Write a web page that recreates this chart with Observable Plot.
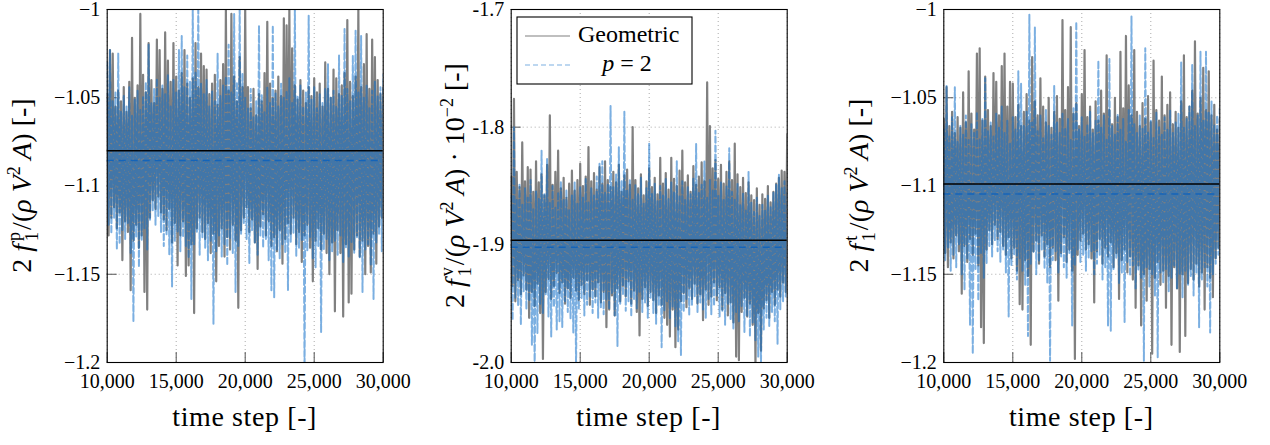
<!DOCTYPE html>
<html><head><meta charset="utf-8">
<script src="https://cdn.jsdelivr.net/npm/d3@7"></script>
<script src="https://cdn.jsdelivr.net/npm/@observablehq/plot@0.6"></script>
<style>
body{margin:0;background:#fff;}
#wrap{position:relative;width:1270px;height:445px;overflow:hidden;background:#fff;}
#wrap svg{position:absolute;top:0;}
</style></head><body><div id="wrap"></div>
<script>
// time axis: samples every 100 steps starting at 10,000 (peaks/troughs)
const timeStart = 10000, timeStep = 100;
const xTicks = [10000, 15000, 20000, 25000, 30000];
const seriesNames = ["Geometric", "p = 2"];

// Panel 1: 2 f1^p/(rho V^2 A)
const p1YTicks = [-1.2, -1.15, -1.1, -1.05, -1];
const p1YTickLabels = ["−1.2", "−1.15", "−1.1", "−1.05", "−1"];
const p1GeomHigh = [-1.048,-1.023,-1.025,-1.055,-1.046,-1.052,-1.044,-1.058,-1.041,-1.016,
-1.050,-1.043,-1.0025,-1.037,-1.047,-1.019,-1.040,-1.053,-1.017,-1.023,
-1.045,-1.013,-1.029,-1.041,-1.019,-1.038,-1.046,-1.036,-1.023,-1.042,
-1.050,-1.039,-1.019,-1.044,-1.025,-1.032,-1.034,-1.048,-1.042,-1.037,
-1.054,-1.040,-1.031,-1.000,-1.046,-1.0025,-1.038,-1.052,-1.027,-1.044,
-1.000,-1.044,-1.056,-1.045,-1.060,-1.048,-1.052,-1.036,-1.007,-1.042,
-1.050,-1.046,-1.038,-1.049,-1.005,-1.009,-1.000,-1.022,-1.043,-1.051,
-1.040,-1.046,-1.053,-1.044,-1.049,-1.039,-1.047,-1.042,-1.055,-1.030,
-1.045,-1.050,-1.034,-1.039,-1.048,-1.043,-1.036,-1.006,-1.041,-1.049,
-1.038,-1.000,-1.044,-1.031,-1.014,-1.045,-1.017,-1.027,-1.040,-1.048,
-1.044];
const p1GeomLow = [-1.128,-1.118,-1.112,-1.124,-1.115,-1.142,-1.120,-1.126,-1.159,-1.131,
-1.122,-1.135,-1.128,-1.160,-1.170,-1.118,-1.108,-1.113,-1.106,-1.115,
-1.119,-1.125,-1.113,-1.132,-1.121,-1.145,-1.128,-1.120,-1.151,-1.145,
-1.133,-1.172,-1.124,-1.118,-1.126,-1.130,-1.121,-1.138,-1.127,-1.154,
-1.134,-1.124,-1.140,-1.129,-1.136,-1.122,-1.131,-1.169,-1.125,-1.118,
-1.112,-1.126,-1.119,-1.132,-1.147,-1.123,-1.116,-1.128,-1.120,-1.134,
-1.129,-1.137,-1.125,-1.144,-1.130,-1.121,-1.127,-1.118,-1.133,-1.126,
-1.143,-1.128,-1.122,-1.135,-1.154,-1.131,-1.124,-1.136,-1.127,-1.138,
-1.150,-1.132,-1.171,-1.125,-1.138,-1.174,-1.133,-1.166,-1.161,-1.136,
-1.128,-1.140,-1.131,-1.150,-1.134,-1.149,-1.127,-1.144,-1.123,-1.118];
const p1ModelHigh = [-1.030,-1.023,-1.052,-1.047,-1.025,-1.058,-1.049,-1.055,-1.044,-1.060,
-1.051,-1.046,-1.057,-1.049,-1.041,-1.020,-1.053,-1.045,-1.039,-1.050,
-1.043,-1.048,-1.037,-1.055,-1.040,-1.047,-1.023,-1.015,-1.044,-1.026,
-1.041,-0.998,-1.035,-0.998,-1.042,-1.048,-1.040,-1.055,-1.046,-1.052,
-1.025,-1.049,-1.043,-1.038,-1.020,-1.047,-1.0025,-1.041,-0.998,-1.036,
-1.050,-1.056,-1.045,-1.061,-1.052,-1.009,-1.048,-1.058,-1.044,-1.053,
-1.009,-1.047,-1.055,-1.042,-1.050,-1.046,-1.039,-1.053,-0.998,-1.049,
-1.043,-1.055,-1.047,-1.0035,-1.051,-1.044,-1.056,-1.048,-1.053,-1.045,
-1.031,-1.050,-1.046,-1.055,-1.026,-1.049,-1.011,-1.045,-1.052,-1.026,
-1.012,-1.047,-1.015,-1.050,-1.043,-1.056,-1.046,-1.041,-1.049,-1.044,
-1.037];
const p1ModelLow = [-1.122,-1.127,-1.118,-1.136,-1.133,-1.125,-1.130,-1.121,-1.138,-1.177,
-1.129,-1.146,-1.131,-1.124,-1.136,-1.120,-1.114,-1.122,-1.117,-1.126,
-1.134,-1.128,-1.139,-1.157,-1.131,-1.126,-1.137,-1.129,-1.134,-1.141,
-1.164,-1.133,-1.126,-1.139,-1.129,-1.135,-1.142,-1.131,-1.178,-1.137,
-1.128,-1.140,-1.133,-1.145,-1.130,-1.138,-1.160,-1.134,-1.127,-1.121,
-1.130,-1.144,-1.125,-1.132,-1.139,-1.128,-1.135,-1.130,-1.142,-1.159,
-1.163,-1.136,-1.141,-1.133,-1.138,-1.159,-1.132,-1.127,-1.140,-1.135,
-1.131,-1.205,-1.137,-1.129,-1.141,-1.146,-1.134,-1.183,-1.136,-1.130,
-1.142,-1.137,-1.131,-1.139,-1.128,-1.143,-1.135,-1.140,-1.132,-1.138,
-1.129,-1.141,-1.160,-1.136,-1.133,-1.145,-1.164,-1.132,-1.127,-1.137];

// Panel 2: 2 f1^v/(rho V^2 A) * 10^-2
const p2YTicks = [-2.0, -1.9, -1.8, -1.7];
const p2YTickLabels = ["-2.0", "-1.9", "-1.8", "-1.7"];
const p2GeomHigh = [-1.842,-1.776,-1.838,-1.851,-1.813,-1.846,-1.834,-1.836,-1.855,-1.829,
-1.847,-1.840,-1.858,-1.832,-1.790,-1.849,-1.838,-1.820,-1.852,-1.843,
-1.860,-1.848,-1.837,-1.854,-1.845,-1.831,-1.850,-1.842,-1.817,-1.846,
-1.839,-1.853,-1.834,-1.848,-1.829,-1.845,-1.851,-1.838,-1.847,-1.832,
-1.855,-1.841,-1.836,-1.849,-1.800,-1.845,-1.852,-1.840,-1.858,-1.846,
-1.835,-1.851,-1.843,-1.857,-1.826,-1.848,-1.839,-1.853,-1.826,-1.844,
-1.850,-1.837,-1.820,-1.847,-1.841,-1.855,-1.833,-1.849,-1.842,-1.830,
-1.846,-1.762,-1.799,-1.835,-1.828,-1.844,-1.832,-1.848,-1.838,-1.829,
-1.845,-1.814,-1.840,-1.851,-1.843,-1.856,-1.847,-1.858,-1.862,-1.852,
-1.866,-1.857,-1.861,-1.850,-1.864,-1.855,-1.848,-1.843,-1.837,-1.838,
-1.806];
const p2GeomLow = [-1.935,-1.948,-1.930,-1.942,-1.926,-1.938,-1.962,-1.940,-1.952,-1.933,
-1.958,-1.997,-1.940,-1.929,-1.946,-1.935,-1.924,-1.941,-1.932,-1.950,
-1.937,-1.945,-1.928,-1.939,-1.947,-1.934,-1.942,-1.930,-1.951,-1.938,
-1.944,-1.932,-1.949,-1.940,-1.970,-1.955,-1.943,-1.960,-1.937,-1.948,
-1.935,-1.944,-1.931,-1.950,-1.939,-1.957,-1.977,-1.946,-1.936,-1.952,
-1.940,-1.947,-1.958,-1.943,-1.951,-1.962,-1.968,-1.978,-1.955,-1.987,
-1.972,-1.948,-1.941,-1.953,-1.937,-1.946,-1.933,-1.950,-1.942,-1.964,
-1.938,-1.951,-1.944,-1.932,-1.947,-1.936,-1.955,-1.941,-1.960,-1.949,
-1.966,-1.995,-1.998,-1.957,-1.945,-1.961,-1.950,-1.968,-2.002,-1.958,
-1.990,-1.954,-1.947,-1.962,-1.940,-1.951,-1.938,-1.944,-1.932,-1.940];
const p2ModelHigh = [-1.858,-1.800,-1.862,-1.849,-1.866,-1.852,-1.860,-1.845,-1.869,-1.854,
-1.861,-1.820,-1.857,-1.827,-1.864,-1.850,-1.868,-1.855,-1.846,-1.862,
-1.853,-1.870,-1.858,-1.847,-1.865,-1.851,-1.860,-1.844,-1.863,-1.852,
-1.858,-1.842,-1.831,-1.829,-1.855,-1.848,-1.782,-1.851,-1.840,-1.817,
-1.846,-1.787,-1.853,-1.845,-1.861,-1.849,-1.857,-1.843,-1.865,-1.852,
-1.814,-1.856,-1.848,-1.863,-1.850,-1.858,-1.844,-1.861,-1.847,-1.855,
-1.829,-1.859,-1.846,-1.862,-1.851,-1.857,-1.843,-1.814,-1.856,-1.849,
-1.829,-1.860,-1.845,-1.853,-1.803,-1.858,-1.847,-1.862,-1.850,-1.818,
-1.855,-1.861,-1.848,-1.866,-1.856,-1.870,-1.838,-1.864,-1.872,-1.860,
-1.875,-1.866,-1.871,-1.858,-1.867,-1.855,-1.849,-1.840,-1.852,-1.846,
-1.855];
const p2ModelLow = [-1.964,-1.945,-1.952,-1.968,-1.940,-1.955,-1.948,-1.985,-2.003,-1.975,
-1.950,-1.958,-1.942,-1.961,-1.978,-1.953,-1.972,-1.965,-1.970,-1.948,
-1.957,-1.963,-1.975,-2.003,-1.955,-1.946,-1.960,-1.951,-1.944,-1.958,
-1.949,-1.962,-1.953,-1.959,-1.947,-1.955,-1.941,-1.960,-1.986,-1.950,
-1.943,-1.956,-1.948,-1.961,-1.946,-1.954,-1.940,-1.957,-1.949,-1.962,
-1.945,-1.958,-1.967,-1.951,-1.987,-1.956,-1.948,-1.963,-1.953,-1.970,
-1.982,-1.994,-1.957,-1.946,-1.960,-1.951,-1.944,-1.958,-1.949,-1.955,
-1.962,-1.947,-1.959,-1.952,-1.943,-1.961,-1.956,-1.968,-1.950,-1.963,
-1.971,-1.957,-1.965,-1.952,-1.974,-1.960,-1.978,-1.966,-1.981,-1.995,
-2.003,-1.972,-1.962,-1.969,-1.957,-1.965,-1.984,-1.955,-1.948,-1.944];

// Panel 3: 2 f1^t/(rho V^2 A)
const p3YTicks = [-1.2, -1.15, -1.1, -1.05, -1];
const p3YTickLabels = ["−1.2", "−1.15", "−1.1", "−1.05", "−1"];
const p3GeomHigh = [-1.062,-1.044,-1.066,-1.058,-1.070,-1.061,-1.067,-1.047,-1.064,-1.035,
-1.059,-1.068,-1.025,-1.022,-1.063,-1.038,-1.057,-1.066,-1.036,-1.041,
-1.060,-1.032,-1.025,-1.055,-1.041,-1.042,-1.061,-1.054,-1.066,-1.058,
-1.048,-1.063,-1.027,-1.052,-1.060,-1.039,-1.055,-1.064,-1.050,-1.067,
-1.058,-1.049,-1.062,-1.006,-1.057,-1.044,-1.010,-1.059,-1.053,-1.066,
-1.048,-1.023,-1.061,-1.055,-1.068,-1.052,-1.063,-1.046,-1.059,-1.026,
-1.057,-1.065,-1.050,-1.061,-1.024,-1.056,-1.015,-1.043,-1.060,-1.023,
-1.058,-1.066,-1.053,-1.062,-1.049,-1.064,-1.029,-1.057,-1.063,-1.038,
-1.060,-1.054,-1.047,-1.065,-1.058,-1.067,-1.052,-1.026,-1.061,-1.055,
-1.046,-1.018,-1.059,-1.050,-1.033,-1.057,-1.035,-1.060,-1.054,-1.068,
-1.062];
const p3GeomLow = [-1.138,-1.146,-1.132,-1.141,-1.128,-1.137,-1.161,-1.134,-1.143,-1.130,
-1.139,-1.127,-1.145,-1.180,-1.189,-1.136,-1.125,-1.133,-1.122,-1.130,
-1.126,-1.134,-1.139,-1.129,-1.141,-1.135,-1.148,-1.167,-1.170,-1.142,
-1.151,-1.190,-1.137,-1.131,-1.144,-1.128,-1.140,-1.133,-1.146,-1.135,
-1.142,-1.165,-1.138,-1.129,-1.143,-1.136,-1.148,-1.198,-1.139,-1.131,
-1.127,-1.136,-1.133,-1.141,-1.166,-1.137,-1.130,-1.144,-1.135,-1.140,
-1.132,-1.146,-1.138,-1.164,-1.142,-1.136,-1.149,-1.140,-1.153,-1.169,
-1.145,-1.179,-1.150,-1.165,-1.147,-1.195,-1.152,-1.143,-1.156,-1.148,
-1.169,-1.151,-1.190,-1.146,-1.158,-1.194,-1.150,-1.185,-1.155,-1.147,
-1.153,-1.144,-1.157,-1.149,-1.170,-1.146,-1.152,-1.163,-1.141,-1.135];
const p3ModelHigh = [-1.068,-1.043,-1.072,-1.061,-1.044,-1.075,-1.066,-1.071,-1.060,-1.074,
-1.065,-1.070,-1.058,-1.073,-1.062,-1.039,-1.069,-1.064,-1.072,-1.059,
-1.067,-1.055,-1.070,-1.063,-1.076,-1.061,-1.068,-1.035,-1.042,-1.066,
-1.058,-1.003,-1.064,-1.010,-1.069,-1.060,-1.073,-1.057,-1.066,-1.071,
-1.043,-1.064,-1.070,-1.059,-1.067,-1.062,-1.074,-1.056,-1.007,-1.068,
-1.061,-1.072,-1.065,-1.058,-1.070,-1.063,-1.029,-1.067,-1.060,-1.073,
-1.028,-1.066,-1.071,-1.059,-1.068,-1.062,-1.075,-1.057,-1.004,-1.065,
-1.070,-1.060,-1.067,-1.022,-1.069,-1.063,-1.072,-1.058,-1.066,-1.071,
-1.061,-1.068,-1.057,-1.070,-1.064,-1.059,-1.030,-1.067,-1.062,-1.055,
-1.031,-1.066,-1.060,-1.024,-1.063,-1.024,-1.058,-1.052,-1.065,-1.060,
-1.056];
const p3ModelLow = [-1.142,-1.135,-1.148,-1.139,-1.146,-1.133,-1.150,-1.159,-1.141,-1.179,
-1.195,-1.147,-1.165,-1.138,-1.152,-1.144,-1.134,-1.140,-1.131,-1.137,
-1.143,-1.136,-1.149,-1.174,-1.145,-1.139,-1.153,-1.141,-1.148,-1.156,
-1.185,-1.144,-1.138,-1.150,-1.143,-1.136,-1.147,-1.155,-1.199,-1.142,
-1.137,-1.149,-1.140,-1.146,-1.152,-1.138,-1.179,-1.145,-1.136,-1.143,
-1.139,-1.148,-1.141,-1.137,-1.150,-1.144,-1.139,-1.153,-1.146,-1.179,
-1.182,-1.147,-1.141,-1.155,-1.149,-1.177,-1.143,-1.151,-1.145,-1.158,
-1.148,-1.152,-1.199,-1.146,-1.157,-1.150,-1.162,-1.197,-1.149,-1.155,
-1.147,-1.160,-1.152,-1.145,-1.158,-1.150,-1.163,-1.148,-1.156,-1.151,
-1.162,-1.149,-1.180,-1.153,-1.146,-1.157,-1.183,-1.150,-1.144,-1.139];

// time-averaged values (horizontal lines)
const geomMeans = [-1.080, -1.896, -1.0988];
const modelMeans = [-1.0855, -1.902, -1.1045];

const axisSup = ["p", "v", "t"];

function build(high, low) {
  const rows = [];
  const n = high.length + low.length;
  for (let i = 0; i < n; i++) {
    rows.push({t: timeStart + i * timeStep, v: i % 2 === 0 ? high[i / 2] : low[(i - 1) / 2]});
  }
  return rows;
}

const FONT = "'Liberation Serif', 'Times New Roman', serif";
const GRAY = "#808080";
const BLUE = "rgb(15,110,200)";
const wrap = document.getElementById("wrap");

const panels = [
  {left: 0, width: 420, ml: 106.7, mr: 37.3, yDomain: [-1.2, -1], yTicks: p1YTicks, yLabels: p1YTickLabels,
   gH: p1GeomHigh, gL: p1GeomLow, mH: p1ModelHigh, mL: p1ModelLow, gMean: geomMeans[0], mMean: modelMeans[0],
   labX: 31, sup: axisSup[0], supW: 9, extra: false, legend: false},
  {left: 420, width: 420, ml: 90.7, mr: 53.3, yDomain: [-2.0, -1.7], yTicks: p2YTicks, yLabels: p2YTickLabels,
   gH: p2GeomHigh, gL: p2GeomLow, mH: p2ModelHigh, mL: p2ModelLow, gMean: geomMeans[1], mMean: modelMeans[1],
   labX: 44, sup: axisSup[1], supW: 9, extra: true, legend: true},
  {left: 840, width: 430, ml: 103.3, mr: 50.7, yDomain: [-1.2, -1], yTicks: p3YTicks, yLabels: p3YTickLabels,
   gH: p3GeomHigh, gL: p3GeomLow, mH: p3ModelHigh, mL: p3ModelLow, gMean: geomMeans[2], mMean: modelMeans[2],
   labX: 28, sup: axisSup[2], supW: 5.5, extra: false, legend: false}
];

const MT = 9, MB = 83, H = 445;

for (const cfg of panels) {
  const fh = H - MT - MB;
  const fw = cfg.width - cfg.ml - cfg.mr;
  const labelMap = new Map(cfg.yTicks.map((d, i) => [d, cfg.yLabels[i]]));
  const svg = Plot.plot({
    width: cfg.width, height: H,
    marginTop: MT, marginBottom: MB, marginLeft: cfg.ml, marginRight: cfg.mr,
    style: {fontFamily: FONT, fontSize: "20px", background: "transparent", color: "black", overflow: "visible"},
    x: {domain: [10000, 30000]},
    y: {domain: cfg.yDomain},
    marks: [
      Plot.gridX(xTicks, {stroke: "#aaaaaa", strokeOpacity: 1, strokeDasharray: "1,3"}),
      Plot.gridY(cfg.yTicks, {stroke: "#aaaaaa", strokeOpacity: 1, strokeDasharray: "1,3"}),
      Plot.ruleX(xTicks, {insetTop: fh - 10, stroke: "#555"}),
      Plot.ruleY(cfg.yTicks, {insetRight: fw - 10, stroke: "#555"}),
      Plot.line(build(cfg.gH, cfg.gL), {x: "t", y: "v", stroke: GRAY, strokeWidth: 2.2, clip: true}),
      Plot.line(build(cfg.mH, cfg.mL), {x: "t", y: "v", stroke: BLUE, strokeOpacity: 0.55, strokeWidth: 2, strokeDasharray: "6,3", clip: true}),
      Plot.ruleY([cfg.gMean], {stroke: "black", strokeWidth: 1.5}),
      Plot.ruleY([cfg.mMean], {stroke: "rgb(20,100,185)", strokeWidth: 1.5, strokeDasharray: "7,5"}),
      Plot.frame({stroke: "black", strokeWidth: 1.1}),
      Plot.axisX(xTicks, {tickSize: 0, tickPadding: 11, tickFormat: d3.format(","), label: null, fontSize: 20, fontFamily: FONT}),
      Plot.axisY(cfg.yTicks, {tickSize: 0, tickPadding: 7, tickFormat: d => labelMap.get(d), label: null, fontSize: 20, fontFamily: FONT})
    ]
  });
  svg.style.left = cfg.left + "px";
  wrap.appendChild(svg);
  const s = d3.select(svg);

  // x-axis title
  s.append("text").attr("x", cfg.ml + fw / 2).attr("y", 426)
    .attr("text-anchor", "middle").attr("font-family", FONT).attr("font-size", 28).attr("fill", "black")
    .attr("letter-spacing", 0.6)
    .text("time step [-]");

  // y-axis title with sub/superscripts
  const t = s.append("text")
    .attr("transform", `translate(${cfg.labX},${MT + fh / 2}) rotate(-90)`)
    .attr("text-anchor", "middle").attr("font-family", FONT).attr("font-size", 28).attr("fill", "black");
  t.append("tspan").text("2 ");
  t.append("tspan").attr("font-style", "italic").text("f");
  t.append("tspan").attr("font-size", 18).attr("dx", 3).attr("dy", -11).text(cfg.sup);
  t.append("tspan").attr("font-size", 18).attr("dx", -cfg.supW).attr("dy", 18).text("1");
  t.append("tspan").attr("dy", -7).attr("dx", 2).text("/(");
  t.append("tspan").attr("font-style", "italic").text("ρ V");
  t.append("tspan").attr("font-size", 18).attr("dy", -11).text("2");
  t.append("tspan").attr("font-style", "italic").attr("dy", 11).text(" A");
  if (cfg.extra) {
    t.append("tspan").text(") · 10");
    t.append("tspan").attr("font-size", 18).attr("dy", -11).text("−2");
    t.append("tspan").attr("dy", 11).text(" [-]");
  } else {
    t.append("tspan").text(") [-]");
  }

  if (cfg.legend) {
    const lg = s.append("g");
    lg.append("rect").attr("x", 97).attr("y", 17).attr("width", 175).attr("height", 67)
      .attr("fill", "white").attr("stroke", "black").attr("stroke-width", 1.1);
    lg.append("line").attr("x1", 105).attr("x2", 150).attr("y1", 36).attr("y2", 36)
      .attr("stroke", GRAY).attr("stroke-width", 1.2);
    lg.append("text").attr("x", 158).attr("y", 42).attr("text-anchor", "start")
      .attr("font-family", FONT).attr("font-size", 24)
      .attr("fill", "black").text(seriesNames[0]);
    lg.append("line").attr("x1", 105).attr("x2", 150).attr("y1", 65).attr("y2", 65)
      .attr("stroke", BLUE).attr("stroke-opacity", 0.55).attr("stroke-width", 1.2).attr("stroke-dasharray", "5,3");
    const lt = lg.append("text").attr("x", 207).attr("y", 71).attr("text-anchor", "middle")
      .attr("font-family", FONT).attr("font-size", 24).attr("fill", "black");
    lt.append("tspan").attr("font-style", "italic").text("p");
    lt.append("tspan").text(" = 2");
  }
}
</script></body></html>
